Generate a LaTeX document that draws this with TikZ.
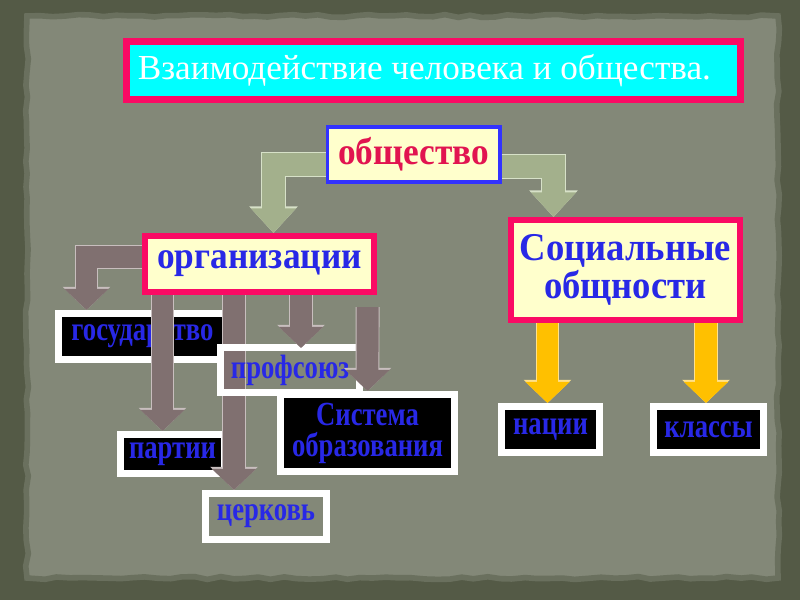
\documentclass[tikz,border=0pt]{standalone}
\usepackage{fontspec}
\setmainfont{Liberation Serif}
\newfontfamily\bigfont{Liberation Serif}[FakeStretch=0.93]
\newfontfamily\smallfont{Liberation Serif}[FakeStretch=0.79]
\usetikzlibrary{arrows.meta,calc,decorations.pathmorphing}
\definecolor{frame}{RGB}{84,90,70}
\definecolor{paper}{RGB}{131,136,120}
\definecolor{paperedge}{RGB}{106,112,94}
\definecolor{hotpink}{RGB}{250,10,100}
\definecolor{aqua}{RGB}{0,255,255}
\definecolor{cream}{RGB}{255,255,204}
\definecolor{royal}{RGB}{50,50,255}
\definecolor{ink}{RGB}{40,40,230}
\definecolor{rosered}{RGB}{225,20,80}
\definecolor{sage}{RGB}{163,176,140}
\definecolor{sageedge}{RGB}{215,225,200}
\definecolor{mauve}{RGB}{128,112,112}
\definecolor{mauveedge}{RGB}{200,190,190}
\definecolor{gold}{RGB}{255,192,0}
\definecolor{goldedge}{RGB}{255,225,140}
\begin{document}
\begin{tikzpicture}[x=0.025cm,y=-0.025cm,
	bigbox/.style={draw=hotpink, line width=4.3pt, fill=cream, inner sep=0pt, text=ink, font=\bigfont\fontsize{27}{29}\selectfont\bfseries, align=center},
	smallbox/.style={draw=white, line width=5pt, fill=black, inner sep=0pt, text=ink, font=\smallfont\fontsize{24}{22}\selectfont\bfseries, align=center},
	greenarr/.style={draw=sage, line width=17pt, line join=miter, -{Triangle[width=31pt,length=17.5pt]}, preaction={draw=sageedge, line width=18.4pt, -{Triangle[width=33.5pt,length=19pt]}}},
	blockarr/.style 2 args={draw=#1, line width=15.6pt, line join=miter, -{Triangle[width=30.6pt,length=15pt]}, preaction={draw=#2, line width=17pt, -{Triangle[width=33pt,length=16.5pt]}}}]
\useasboundingbox (0,0) rectangle (800,600);
\fill[frame] (0,0) rectangle (800,600);
\pgfmathsetseed{7}
\filldraw[fill=paper, draw=paperedge, line width=4pt, decorate, decoration={random steps, segment length=9pt, amplitude=1pt}]
	(27,16) -- (778,16) -- (778,578) -- (27,578) -- cycle;

\node[draw=hotpink, line width=5pt, fill=aqua, inner sep=0pt, minimum width=15.35cm, minimum height=1.45cm, text=white, font=\fontsize{25}{27}\selectfont] (title) at (433.5,70.5) {Взаимодействие человека и общества.\hspace*{13pt}};
\node[bigbox, draw=royal, line width=2.8pt, text=rosered, minimum width=4.3cm, minimum height=1.375cm] (soc) at (413.5,154.5) {общество};
\node[bigbox, minimum width=5.725cm, minimum height=1.4cm] (org) at (259.5,264) {организации};
\node[bigbox, minimum width=5.725cm, minimum height=2.5cm, font=\bigfont\fontsize{28}{27}\selectfont\bfseries] (comm) at (625.5,270) {Социальные\\общности};
\draw[greenarr] ($(soc.west)+(0,10)$) -| ($(org.north)+(14,0)$);
\draw[greenarr] ($(soc.east)+(0,12)$) -| ($(comm.north)+(-72,0)$);

\node[smallbox, minimum width=4.2cm, minimum height=1.15cm] (state) at (142.5,336.5) {государство};
\node[smallbox, minimum width=2.6cm, minimum height=0.975cm] (party) at (172.5,454) {партии};
\node[smallbox, fill=none, minimum width=3.025cm, minimum height=1.15cm] (church) at (266,516.5) {церковь};
\draw[blockarr={mauve}{mauveedge}] ($(org.west)+(0,-7)$) -| ($(state.north)+(-56,0)$);
\draw[blockarr={mauve}{mauveedge}] ($(org.south)+(-97,0)$) -- ($(party.north)+(-10,0)$);
\draw[blockarr={mauve}{mauveedge}] ($(org.south)+(-25.5,0)$) -- ($(church.north)+(-32,0)$);
\node[smallbox, fill=none, minimum width=3.475cm, minimum height=1.125cm] (union) at (290,370) {профсоюз};
\node[smallbox, minimum width=4.35cm, minimum height=1.925cm] (school) at (367.5,433) {Система\\образования};
\draw[blockarr={mauve}{mauveedge}] ($(org.south)+(41.5,0)$) -- ($(union.north)+(11,4)$);
\draw[blockarr={mauve}{mauveedge}] ($(org.south east)+(-9.5,12)$) -- (school.north);

\node[smallbox, minimum width=2.45cm, minimum height=1.15cm] (nation) at (550.5,429.5) {нации};
\node[smallbox, minimum width=2.75cm, minimum height=1.15cm] (class) at (708.5,429.5) {классы};
\draw[blockarr={gold}{goldedge}] ($(comm.south)+(-78,0)$) -- ($(nation.north)+(-3,0)$);
\draw[blockarr={gold}{goldedge}] ($(comm.south)+(80.5,0)$) -- ($(class.north)+(-2.5,0)$);
\end{tikzpicture}
\end{document}
